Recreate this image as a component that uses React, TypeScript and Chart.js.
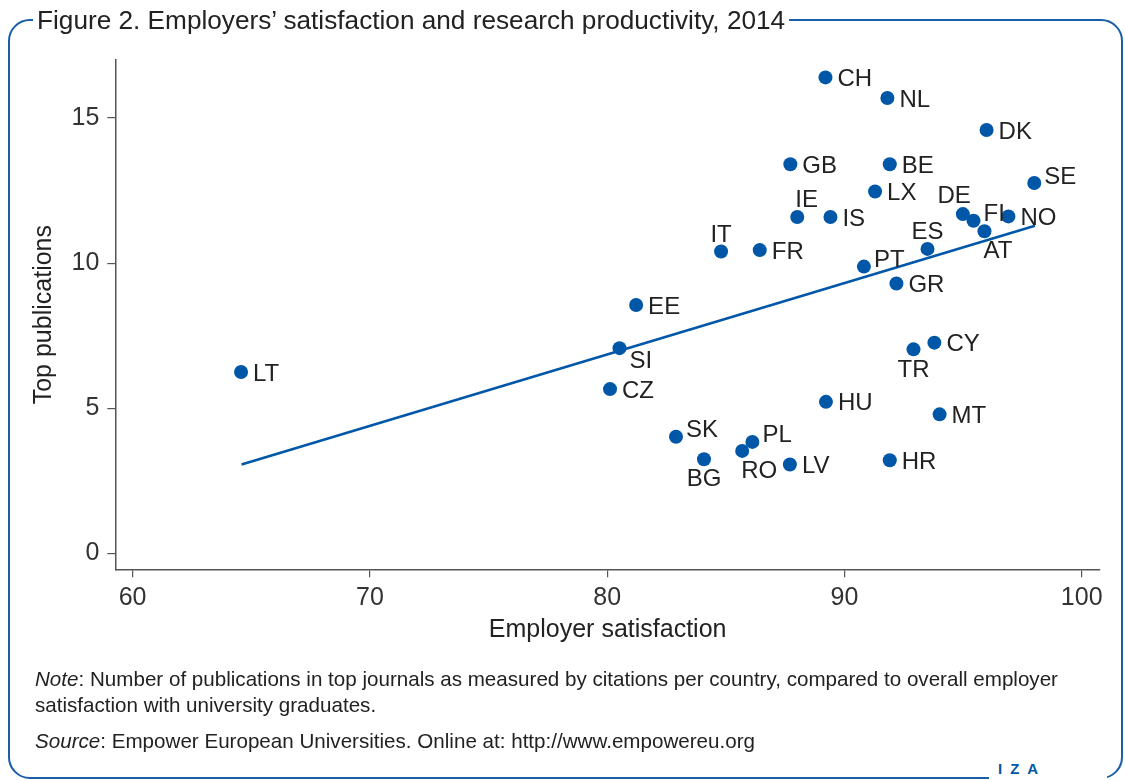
import React, { useEffect, useRef } from 'react';
import { Chart, registerables } from 'chart.js';

Chart.register(...registerables);

// ---- data ----
const countries = [
  'LT', 'CH', 'NL', 'DK', 'GB', 'BE', 'SE', 'LX', 'DE', 'FI', 'NO', 'AT', 'IE', 'IS', 'IT', 'FR',
  'ES', 'PT', 'GR', 'EE', 'SI', 'CZ', 'TR', 'CY', 'HU', 'MT', 'PL', 'RO', 'LV', 'HR', 'SK', 'BG',
];
const employerSatisfaction = [
  64.57, 89.2, 91.81, 95.99, 87.72, 91.91, 98.0, 91.29, 94.99, 95.44, 96.91, 95.9, 88.01, 89.41, 84.8, 86.43,
  93.5, 90.82, 92.19, 81.22, 80.52, 80.12, 92.91, 93.79, 89.22, 94.01, 86.12, 85.69, 87.7, 91.91, 82.9, 84.08,
];
const topPublications = [
  6.25, 16.4, 15.69, 14.59, 13.41, 13.41, 12.76, 12.47, 11.69, 11.46, 11.61, 11.1, 11.59, 11.59, 10.4, 10.45,
  10.49, 9.88, 9.3, 8.56, 7.07, 5.66, 7.03, 7.26, 5.22, 4.79, 3.84, 3.53, 3.06, 3.21, 4.02, 3.24,
];
// fitted (linear trend) line end points
const fitSatisfaction = [64.59, 98.03];
const fitPublications = [3.06, 11.29];

const xTicks = [60, 70, 80, 90, 100];
const yTicks = [0, 5, 10, 15];

// label placement as clock positions (3 = right of marker)
const labelClock: Record<string, number> = {
  SE: 2, DE: 11, FI: 2, AT: 5, IE: 1, IT: 12, ES: 12, PT: 2, SI: 4, TR: 6, SK: 2, PL: 2, RO: 5, BG: 6,
};

// ---- style ----
const BLUE = '#0057a8';
const FRAME = '#1a5ea8';
const FONT = "'Liberation Sans', Arial, Helvetica, sans-serif";
const LABEL_SIZE = 24;

const pointLabelPlugin = {
  id: 'pointLabels',
  afterDatasetsDraw(chart: any) {
    const meta = chart.getDatasetMeta(0);
    const ctx = chart.ctx as CanvasRenderingContext2D;
    const cap = LABEL_SIZE * 0.716;
    ctx.save();
    ctx.font = `${LABEL_SIZE}px ${FONT}`;
    ctx.fillStyle = '#222';
    ctx.textBaseline = 'alphabetic';
    meta.data.forEach((el: any, i: number) => {
      const name = countries[i];
      const clock = labelClock[name] ?? 3;
      let dx = 12;
      let base = cap / 2;
      let align: CanvasTextAlign = 'left';
      switch (clock) {
        case 2: dx = 10; base = cap / 2 - 8; align = 'left'; break;
        case 12: dx = 0; base = -10; align = 'center'; break;
        case 1: dx = -2; base = -10; align = 'left'; break;
        case 11: dx = 8; base = -11; align = 'right'; break;
        case 6: dx = 0; base = 10 + cap; align = 'center'; break;
        case 5: dx = -1; base = 10 + cap; align = 'left'; break;
        case 4: dx = 10; base = 3 + cap; align = 'left'; break;
        default: dx = 12; base = cap / 2; align = 'left';
      }
      ctx.textAlign = align;
      ctx.fillText(name, el.x + dx, el.y + base);
    });
    ctx.restore();
  },
};

export default function App() {
  const ref = useRef<HTMLCanvasElement>(null);

  useEffect(() => {
    if (!ref.current) return;
    const tickFont = { size: 25, family: FONT };
    const chart = new Chart(ref.current, {
      type: 'scatter',
      data: {
        datasets: [
          {
            data: countries.map((_, i) => ({ x: employerSatisfaction[i], y: topPublications[i] })),
            pointRadius: 7,
            pointHoverRadius: 7,
            pointBackgroundColor: BLUE,
            pointBorderWidth: 0,
            order: 0,
          },
          {
            data: fitSatisfaction.map((x, i) => ({ x, y: fitPublications[i] })),
            showLine: true,
            borderColor: BLUE,
            borderWidth: 2.5,
            pointRadius: 0,
            pointHoverRadius: 0,
            fill: false,
            order: 1,
          } as any,
        ],
      },
      options: {
        responsive: false,
        animation: false,
        events: [],
        layout: { padding: { left: 20, top: 60, right: 25, bottom: 130.7 } },
        plugins: { legend: { display: false }, tooltip: { enabled: false } },
        scales: {
          x: {
            type: 'linear',
            min: 59.27,
            max: 100.77,
            afterBuildTicks: (s: any) => { s.ticks = xTicks.map((v) => ({ value: v })); },
            afterFit: (s: any) => { s.height = 80; },
            ticks: { font: tickFont, color: '#333', padding: 6, maxRotation: 0, autoSkip: false },
            grid: { drawOnChartArea: false, drawTicks: true, tickLength: 8, color: '#555', lineWidth: 1.2 },
            border: { display: true, color: '#555', width: 1.5 },
            title: {
              display: true,
              text: 'Employer satisfaction',
              font: tickFont,
              color: '#222',
              padding: { top: 0, bottom: 4.3 },
            },
          },
          y: {
            type: 'linear',
            min: -0.55,
            max: 17.0,
            afterBuildTicks: (s: any) => { s.ticks = yTicks.map((v) => ({ value: v })); },
            afterFit: (s: any) => { s.width = 95.3; },
            ticks: { font: tickFont, color: '#333', padding: 8, autoSkip: false },
            grid: { drawOnChartArea: false, drawTicks: true, tickLength: 8, color: '#555', lineWidth: 1.2 },
            border: { display: true, color: '#555', width: 1.5 },
            title: {
              display: true,
              text: 'Top publications',
              font: tickFont,
              color: '#222',
              padding: { top: 9, bottom: 0 },
            },
          },
        },
      },
      plugins: [pointLabelPlugin],
    } as any);
    return () => chart.destroy();
  }, []);

  return (
    <div
      style={{
        position: 'absolute',
        left: 0,
        top: 0,
        width: 1125,
        height: 780,
        overflow: 'hidden',
        background: '#fff',
        fontFamily: FONT,
        color: '#222',
      }}
    >
      <div
        style={{
          position: 'absolute',
          left: 8,
          top: 19,
          width: 1115,
          height: 760,
          border: `2.5px solid ${FRAME}`,
          borderRadius: 22,
          boxSizing: 'border-box',
        }}
      />
      <canvas ref={ref} width={1125} height={780} style={{ position: 'absolute', left: 0, top: 0 }} />
      <div
        style={{
          position: 'absolute',
          left: 33,
          top: 7,
          padding: '0 4px',
          background: '#fff',
          fontSize: 26.2,
          lineHeight: '26px',
          whiteSpace: 'nowrap',
        }}
      >
        Figure 2. Employers’ satisfaction and research productivity, 2014
      </div>
      <div
        style={{
          position: 'absolute',
          left: 35,
          top: 666,
          fontSize: 20.6,
          lineHeight: '26px',
          whiteSpace: 'nowrap',
        }}
      >
        <div>
          <i>Note</i>: Number of publications in top journals as measured by citations per country, compared to overall employer
          <br />
          satisfaction with university graduates.
        </div>
        <div style={{ marginTop: 10 }}>
          <i>Source</i>: Empower European Universities. Online at: http://www.empowereu.org
        </div>
      </div>
      <div
        style={{
          position: 'absolute',
          left: 989,
          top: 756,
          width: 118,
          height: 26,
          background: '#fff',
        }}
      >
        <span
          style={{
            position: 'absolute',
            left: 9,
            top: 3,
            fontSize: 15,
            fontWeight: 'bold',
            letterSpacing: '8px',
            color: BLUE,
            lineHeight: '20px',
          }}
        >
          IZA
        </span>
      </div>
    </div>
  );
}
